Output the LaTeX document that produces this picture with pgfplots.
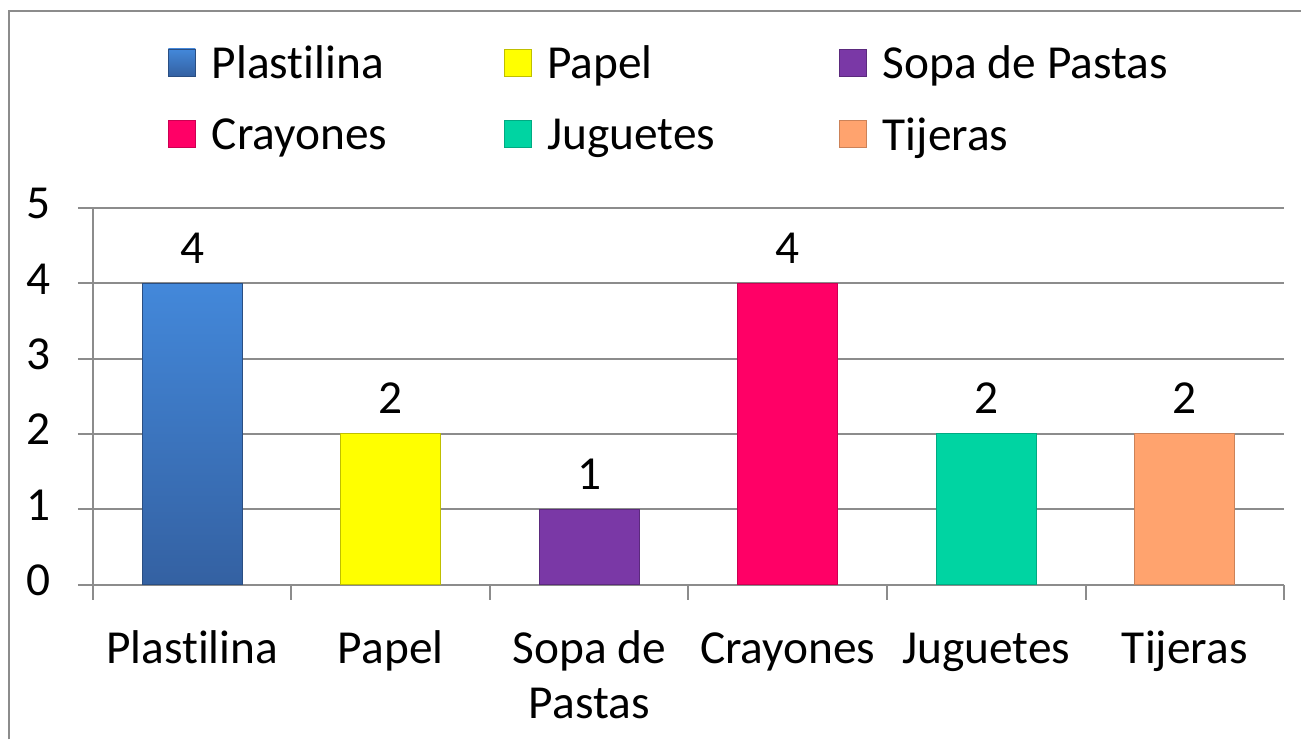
\documentclass[border=0pt]{standalone}
\usepackage{pgfplots}
\pgfplotsset{compat=1.18}
\usepackage{fontspec}
\setmainfont{Carlito}[Ligatures={NoCommon}]
\newcommand\bigf{\fontsize{23.7}{27.5}\selectfont}
\newcommand\legbox[1]{\makebox[144pt][l]{#1}}
\definecolor{cPlaTop}{HTML}{4388DA}
\definecolor{cPlaBot}{HTML}{3461A2}
\definecolor{cPap}{HTML}{FFFF00}
\definecolor{cSop}{HTML}{7A38A6}
\definecolor{cCra}{HTML}{FF0066}
\definecolor{cJug}{HTML}{00D4A2}
\definecolor{cTij}{HTML}{FFA36E}
\definecolor{gridgray}{HTML}{8C8C8C}
\begin{document}
\begin{tikzpicture}
\begin{axis}[
  scale only axis,
  width=596pt, height=188.5pt,
  xmin=-0.5, xmax=5.5,
  ymin=0, ymax=5,
  ytick={0,1,2,3,4,5},
  xtick={0,1,2,3,4,5},
  xticklabels={Plastilina,Papel,{Sopa de\\Pastas},Crayones,Juguetes,Tijeras},
  minor xtick={-0.5,0.5,1.5,2.5,3.5,4.5,5.5},
  axis x line=bottom, axis y line=left,
  axis line style={-, draw=gridgray, line width=1pt},
  tick align=outside,
  major tick length=7.5pt, minor tick length=7.5pt,
  xtick style={draw=none},
  minor x tick style={draw=gridgray, line width=1pt},
  ytick style={draw=gridgray, line width=1pt},
  ymajorgrids,
  major grid style={draw=gridgray, line width=1pt},
  /pgf/number format/assume math mode=true,
  tick label style={font=\bigf, text=black},
  xticklabel style={align=center, yshift=-9pt},
  typeset ticklabels with strut,
  yticklabel style={xshift=-10pt},
  ybar, bar width=50pt, bar shift=0pt,
  nodes near coords,
  every node near coord/.append style={font=\bigf, text=black, yshift=6.5pt},
  legend columns=3,
  legend cell align=left,
  legend style={at={(0.0577,1.452)}, anchor=north west, draw=none, fill=none,
    font=\bigf, row sep=14pt,
    /tikz/every even column/.append style={column sep=0pt},
    /tikz/every odd column/.append style={column sep=6pt}},
  legend image code/.code={\fill[#1] (0pt,-6pt) rectangle (13.5pt,7.5pt);},
]
\addplot[draw=cPlaBot!80!black, line width=0.4pt, top color=cPlaTop, bottom color=cPlaBot] coordinates {(0,4)};
\addlegendentry{\legbox{Plastilina}}
\addplot[draw=cPap!75!black, line width=0.4pt, fill=cPap] coordinates {(1,2)};
\addlegendentry{\legbox{Papel}}
\addplot[draw=cSop!75!black, line width=0.4pt, fill=cSop] coordinates {(2,1)};
\addlegendentry{Sopa de Pastas}
\addplot[draw=cCra!80!black, line width=0.4pt, fill=cCra] coordinates {(3,4)};
\addlegendentry{\legbox{Crayones}}
\addplot[draw=cJug!80!black, line width=0.4pt, fill=cJug] coordinates {(4,2)};
\addlegendentry{\legbox{Juguetes}}
\addplot[draw=cTij!80!black, line width=0.4pt, fill=cTij] coordinates {(5,2)};
\addlegendentry{Tijeras}
\end{axis}
\draw[gridgray, line width=1pt] (-42pt,-77.5pt) -- (-42pt,287pt) -- (604.5pt,287pt);
\path[use as bounding box] (-46.5pt,-77.5pt) rectangle (604.5pt,292.5pt);
\end{tikzpicture}
\end{document}
